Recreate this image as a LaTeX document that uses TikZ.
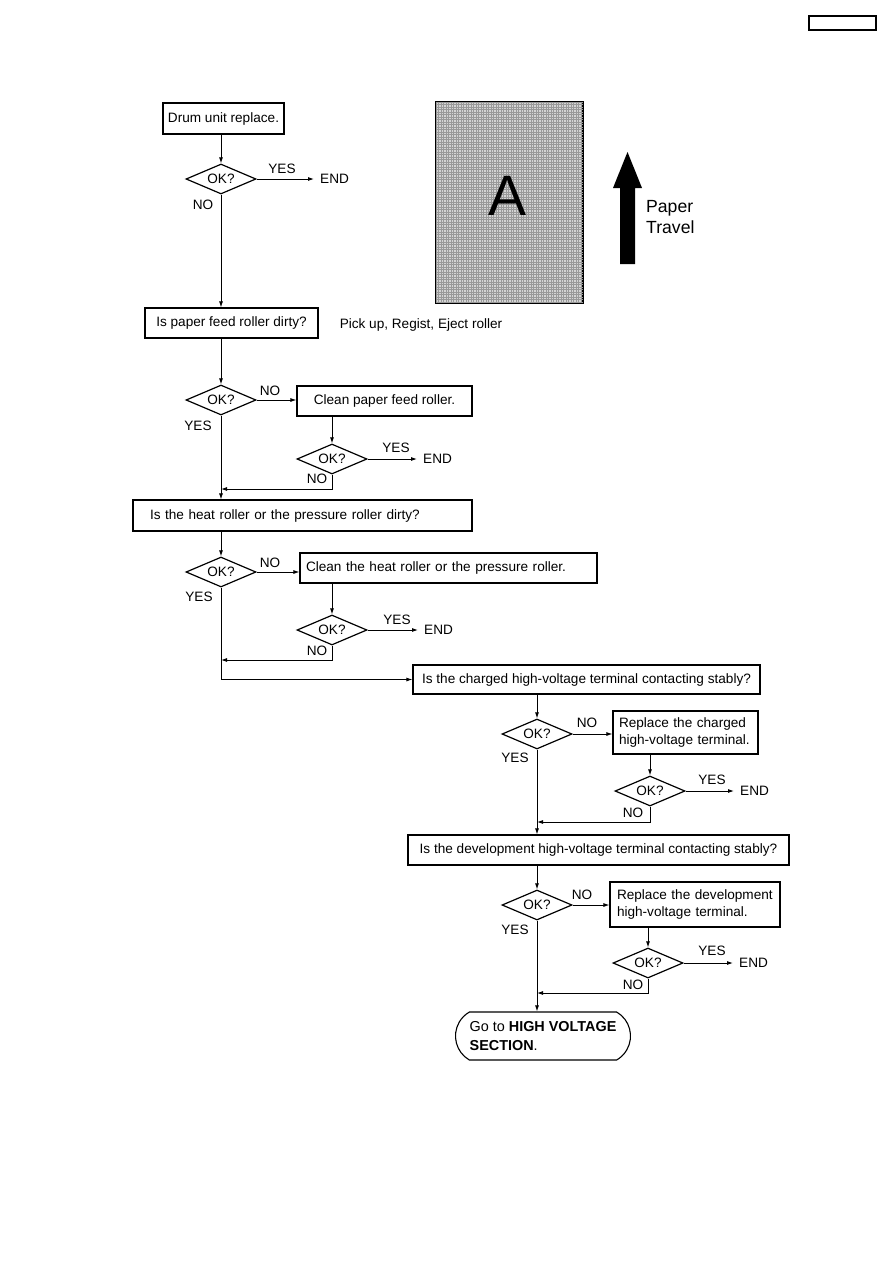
\documentclass[tikz,border=0pt]{standalone}
\usepackage{fontspec}
\setmainfont{Liberation Sans}
\usetikzlibrary{shapes.geometric,shapes.misc,arrows.meta}
\newcommand\diafont{\fontsize{13.6}{17}\selectfont}
\begin{document}
\begin{tikzpicture}[x=1pt,y=-1pt,
 every node/.style={font=\diafont, inner sep=0pt},
 box/.style={draw, line width=1.1pt, align=left, inner ysep=0pt},
 cbox/.style={draw, line width=1.1pt, inner sep=0pt},
 dec/.style={draw, diamond, line width=1.2pt, minimum width=70pt, minimum height=30pt, inner sep=0pt, aspect=2.33},
 conn/.style={line width=0.9pt, -{Latex[length=6pt,width=4pt]}}]
\useasboundingbox (0,0) rectangle (893,1263);
\fill[white] (0,0) rectangle (893,1263);
% page box
\node[draw, line width=1.5pt, minimum width=67pt, minimum height=14pt] (pg) at (842.5,23) {};
% paper illustration
\node[draw, line width=1.1pt, minimum width=147pt, minimum height=201pt, fill=black!17] (pa) at (509.5,202.5) {};
\begin{scope}
\clip (pa.north west) rectangle (pa.south east);
\foreach \x in {436,438.5,...,584} \draw[black!40, line width=0.45pt] (\x,102) -- (\x,303);
\foreach \y in {102,104.5,...,304} \draw[black!40, line width=0.45pt] (436,\y) -- (583,\y);
\end{scope}
\draw[line width=1.1pt] (pa.north west) rectangle (pa.south east);
\node[font=\fontsize{57}{60}\selectfont] (aa) at (508,196) {A};
\fill (620,264) -- (620,188) -- (613,188) -- (627.5,152) -- (642,188) -- (635,188) -- (635,264) -- cycle;
\node[anchor=west, align=left, font=\fontsize{17.6}{21}\selectfont] (pt) at (646,217) {Paper\\Travel};
% flow
\node[cbox, minimum width=121pt, minimum height=31pt] (b1) at (223.5,118.5) {Drum unit replace.};
\node[dec] (d1) at (221,179) {OK?};
\node[anchor=west] (e1) at (320,179) {END};
\node (y1) at (282,169) {YES};
\node (n1) at (203,205) {NO};
\draw[conn] (d1.north |- b1.south) -- (d1.north);
\draw[conn] (d1.east) -- ([xshift=-6pt]e1.west);
\node[cbox, minimum width=173pt, minimum height=30pt] (b2) at (231.5,323) {Is paper feed roller dirty?};
\node (pk) at (421,325) {Pick up, Regist, Eject roller};
\draw[conn] (d1.south) -- (d1.south |- b2.north);
% block 2
\node[dec] (d2) at (221,400) {OK?};
\draw[conn] (d2.north |- b2.south) -- (d2.north);
\node[cbox, minimum width=175pt, minimum height=30pt] (b3) at (384.5,401) {Clean paper feed roller.};
\draw[conn] (d2.east) -- (d2.east -| b3.west);
\node (n2) at (270,391) {NO};
\node (y2) at (198,426) {YES};
\node[dec] (d3) at (332,459) {OK?};
\draw[conn] (d3.north |- b3.south) -- (d3.north);
\node[anchor=west] (e3) at (423,459) {END};
\draw[conn] (d3.east) -- ([xshift=-6pt]e3.west);
\node (y3) at (396,448) {YES};
\node (n3) at (317,479) {NO};
\coordinate (j3) at (221,489);
\draw[conn] (d3.south) |- (j3);
\node[box, text width=305pt, inner xsep=17pt, minimum height=31pt] (b4) at (302.5,515.5) {Is the heat roller or the pressure roller dirty?};
\draw[conn] (d2.south) -- (d2.south |- b4.north);
% block 3
\node[dec] (d4) at (221,572) {OK?};
\draw[conn] (d4.north |- b4.south) -- (d4.north);
\node[box, text width=285pt, inner xsep=6pt, minimum height=30pt] (b5) at (448.5,568) {Clean the heat roller or the pressure roller.};
\draw[conn] (d4.east) -- (d4.east -| b5.west);
\node (n4) at (270,563) {NO};
\node (y4) at (199,597) {YES};
\node[dec] (d5) at (332,630) {OK?};
\draw[conn] (d5.north |- b5.south) -- (d5.north);
\node[anchor=west] (e5) at (424,630) {END};
\draw[conn] (d5.east) -- ([xshift=-6pt]e5.west);
\node (y5) at (397,620) {YES};
\node (n5) at (317,651) {NO};
\coordinate (j5) at (221,660);
\draw[conn] (d5.south) |- (j5);
\node[cbox, minimum width=347pt, minimum height=29pt] (b6) at (586.5,679.5) {Is the charged high-voltage terminal contacting stably?};
\draw[conn] (d4.south) |- (b6.west);
% block 4
\node[dec] (d6) at (537,734) {OK?};
\draw[conn] (d6.north |- b6.south) -- (d6.north);
\node[box, text width=133pt, inner xsep=6pt, minimum height=43pt] (b7) at (685.5,732.5) {Replace the charged\\high-voltage terminal.};
\draw[conn] (d6.east) -- (d6.east -| b7.west);
\node (n6) at (587,723) {NO};
\node (y6) at (515,758) {YES};
\node[dec] (d7) at (650,791) {OK?};
\draw[conn] (d7.north |- b7.south) -- (d7.north);
\node[anchor=west] (e7) at (740,791) {END};
\draw[conn] (d7.east) -- ([xshift=-6pt]e7.west);
\node (y7) at (712,780) {YES};
\node (n7) at (633,813) {NO};
\coordinate (j7) at (537,822);
\draw[conn] (d7.south) |- (j7);
\node[cbox, minimum width=381pt, minimum height=30pt] (b8) at (598.5,850) {Is the development high-voltage terminal contacting stably?};
\draw[conn] (d6.south) -- (d6.south |- b8.north);
% block 5
\node[dec] (d8) at (537,905) {OK?};
\draw[conn] (d8.north |- b8.south) -- (d8.north);
\node[box, text width=156pt, inner xsep=7pt, minimum height=45pt] (b9) at (695,904.5) {Replace the development\\high-voltage terminal.};
\draw[conn] (d8.east) -- (d8.east -| b9.west);
\node (n8) at (582,895) {NO};
\node (y8) at (515,930) {YES};
\node[dec] (d9) at (648,963) {OK?};
\draw[conn] (d9.north |- b9.south) -- (d9.north);
\node[anchor=west] (e9) at (739,963) {END};
\draw[conn] (d9.east) -- ([xshift=-6pt]e9.west);
\node (y9) at (712,951) {YES};
\node (n9) at (633,985) {NO};
\coordinate (j9) at (537,993);
\draw[conn] (d9.south) |- (j9);
\node[draw, rounded rectangle, rounded rectangle arc length=120, line width=1.1pt, minimum width=175pt, minimum height=48pt, align=left, font=\fontsize{14.4}{19}\selectfont] (term) at (543,1036) {Go to \textbf{HIGH VOLTAGE}\\\textbf{SECTION}.};
\draw[conn] (d8.south) -- (d8.south |- term.north);
\end{tikzpicture}
\end{document}
